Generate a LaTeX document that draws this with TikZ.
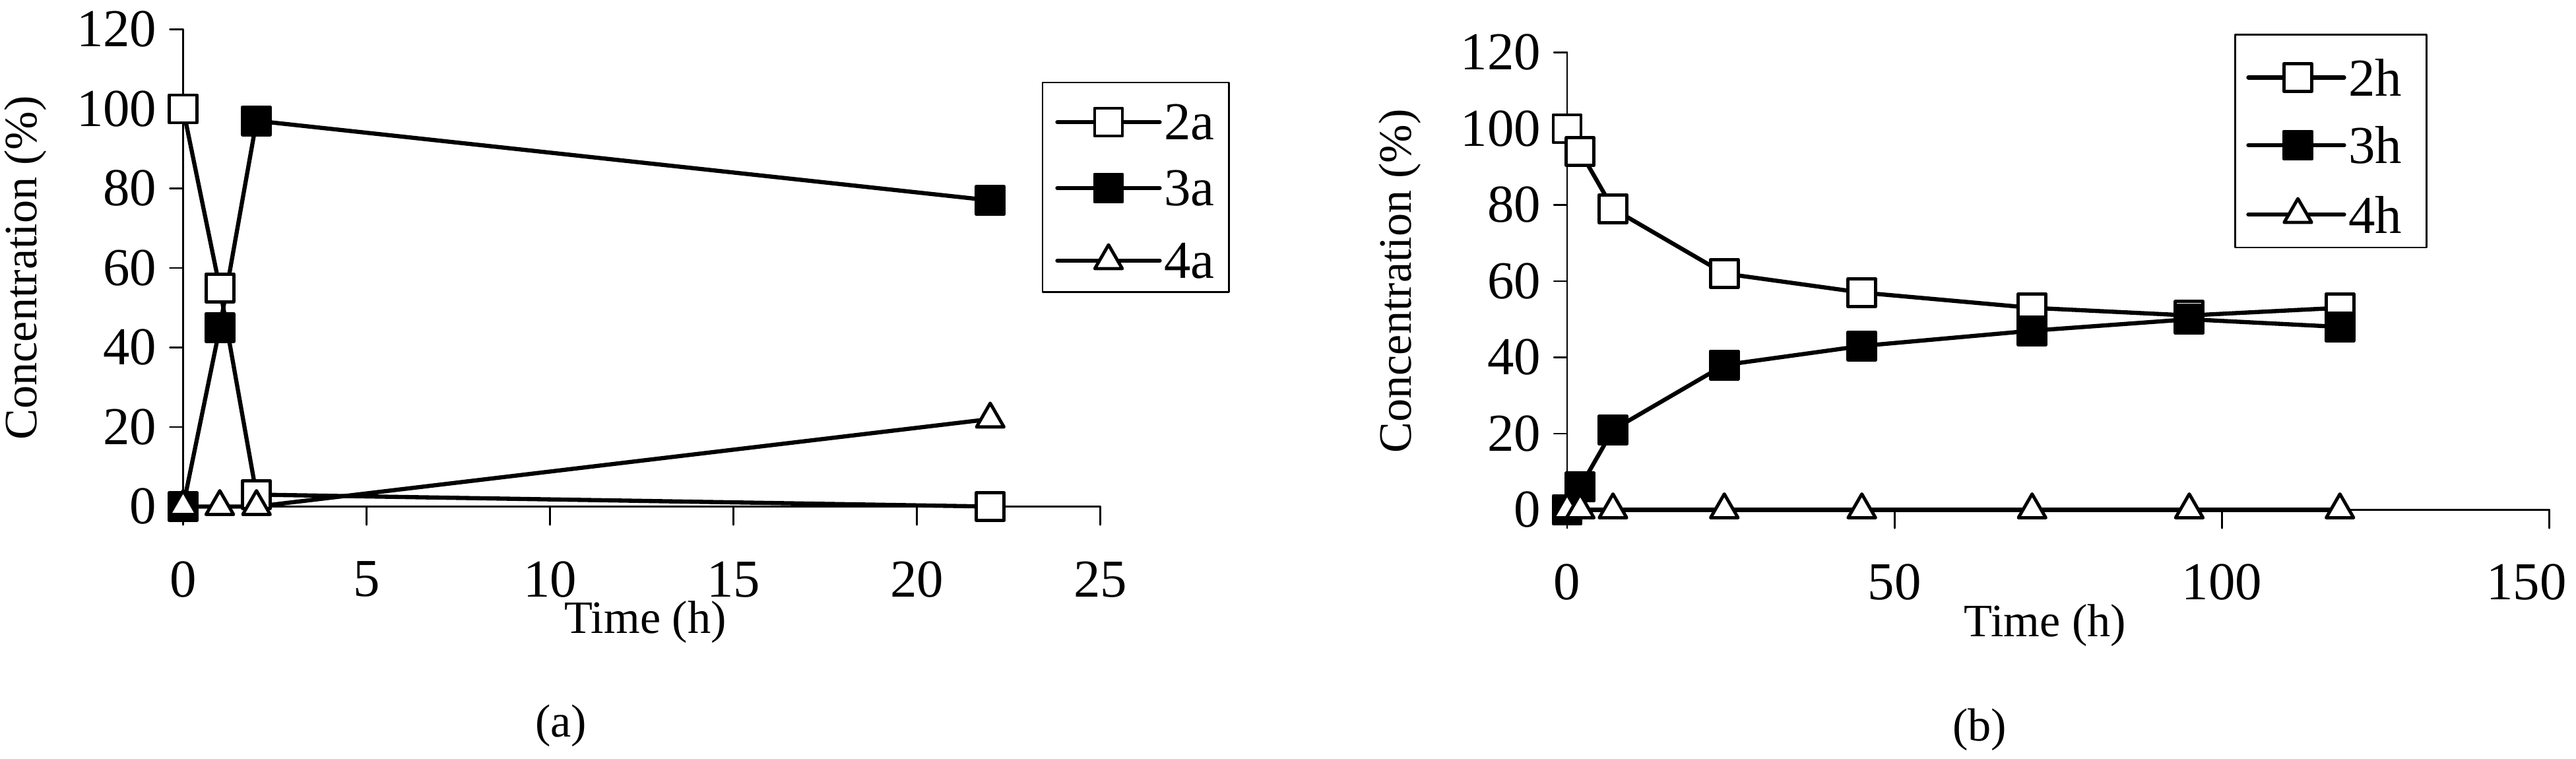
\documentclass[tikz,border=0pt]{standalone}
\usepackage{fontspec}
\setmainfont{Liberation Serif}
\usetikzlibrary{shapes.geometric}
\tikzset{>=latex}
\begin{document}
\begin{tikzpicture}[x=0.025cm, y=0.025cm, line cap=round, line join=round,
    axis/.style={black, line width=0.8pt},
    series/.style={black, line width=1.8pt},
    opensq/.style={draw=black, fill=white, line width=1.4pt, minimum size=0.42cm, inner sep=0pt, rectangle},
    fullsq/.style={draw=black, fill=black, line width=1.4pt, minimum size=0.42cm, inner sep=0pt, rectangle},
    opentri/.style={draw=black, fill=white, line width=1.4pt, minimum size=0.48cm, inner sep=0pt, regular polygon, regular polygon sides=3},
    ticklab/.style={font=\fontsize{23}{27}\selectfont},
    axlab/.style={font=\fontsize{20}{24}\selectfont}]
  \useasboundingbox (0,0) rectangle (1561.6,460);

  % panel (a)
  \begin{scope}[shift={(111,153)}, xscale=22.24, yscale=2.41]
    \draw[axis] (0,0) -- (25,0);
    \draw[axis] (0,0) -- (0,120);
    \foreach \yy in {0,20,...,120}
      \draw[axis] (0,\yy) -- (-0.36,\yy) node[ticklab, left=2pt] {\yy};
    \foreach \xx in {0,5,...,25}{
      \draw[axis] (\xx,0) -- (\xx,-4.6);
      \node[ticklab] at (\xx,-18.3) {\xx};
    }
    \node[axlab] (ta) at (12.6,-29) {Time (h)};
    \node[axlab, rotate=90] (ca) at (-4.3,60) {Concentration (\%)};
    \node[axlab] (pa) at (10.3,-55.2) {(a)};
    % series
    \draw[series] (0,100) -- (1,55) -- (2,3) -- (22,0);
    \draw[series] (0,0) -- (1,45) -- (2,97) -- (22,77);
    \draw[series] (0,0) -- (1,0) -- (2,0) -- (22,22);
    \foreach \xx/\yy in {0/100,1/55,2/3,22/0} \node[opensq] at (\xx,\yy) {};
    \foreach \xx/\yy in {0/0,1/45,2/97,22/77} \node[fullsq] at (\xx,\yy) {};
    \foreach \xx/\yy in {0/0,1/0,2/0,22/22} \node[opentri] at (\xx,\yy) {};
  \end{scope}
  % legend (a)
  \draw[axis] (632,283) rectangle (745,410);
  \foreach \yy/\st/\lab in {386/opensq/2a,346/fullsq/3a,302/opentri/4a}{
    \draw[series] (641,\yy) -- (703,\yy);
    \node[\st] at (672,\yy) {};
    \node[ticklab, anchor=west, inner sep=1pt] at (704,\yy) {\lab};
  }

  % panel (b)
  \begin{scope}[shift={(950,151)}, xscale=3.97, yscale=2.31]
    \draw[axis] (0,0) -- (150,0);
    \draw[axis] (0,0) -- (0,120);
    \foreach \yy in {0,20,...,120}
      \draw[axis] (0,\yy) -- (-2,\yy) node[ticklab, left=2pt] {\yy};
    \foreach \xx/\lx in {0/0,50/50,100/100,150/146.5}{
      \draw[axis] (\xx,0) -- (\xx,-4.8);
      \node[ticklab] at (\lx,-19) {\xx};
    }
    \node[axlab] (tb) at (73,-30.3) {Time (h)};
    \node[axlab, rotate=90] (cb) at (-25.5,60) {Concentration (\%)};
    \node[axlab] (pb) at (63,-57.6) {(b)};
    % series
    \draw[series] (0,100) -- (2,94) -- (7,79) -- (24,62) -- (45,57) -- (71,53) -- (95,51) -- (118,53);
    \draw[series] (0,0) -- (2,6) -- (7,21) -- (24,38) -- (45,43) -- (71,47) -- (95,50) -- (118,48);
    \draw[series] (0,0) -- (118,0);
    \foreach \xx/\yy in {0/100,2/94,7/79,24/62,45/57,71/53,95/51,118/53} \node[opensq] at (\xx,\yy) {};
    \foreach \xx/\yy in {0/0,2/6,7/21,24/38,45/43,71/47,95/50,118/48} \node[fullsq] at (\xx,\yy) {};
    \foreach \xx in {0,2,7,24,45,71,95,118} \node[opentri] at (\xx,0) {};
  \end{scope}
  % legend (b)
  \draw[axis] (1355,310) rectangle (1471,439);
  \foreach \yy/\st/\lab in {413/opensq/2h,372/fullsq/3h,330/opentri/4h}{
    \draw[series] (1363,\yy) -- (1421,\yy);
    \node[\st] at (1393,\yy) {};
    \node[ticklab, anchor=west, inner sep=1pt] at (1422,\yy) {\lab};
  }
\end{tikzpicture}
\end{document}
